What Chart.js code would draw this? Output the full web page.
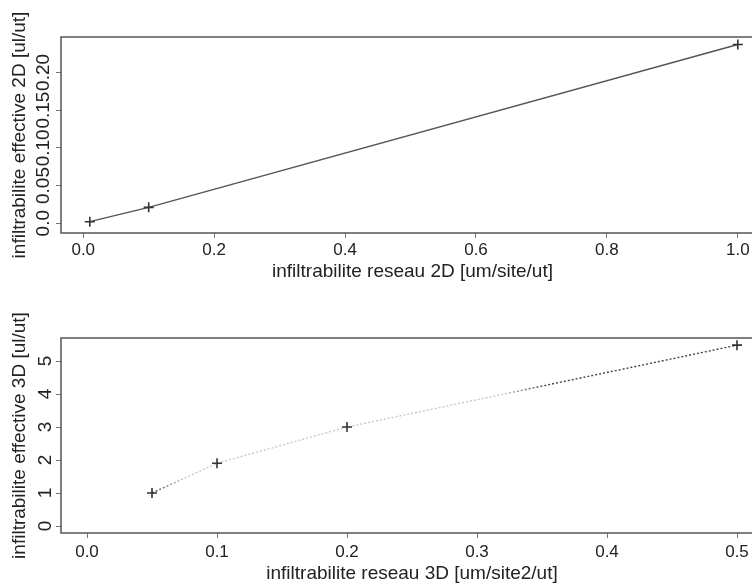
<!DOCTYPE html>
<html><head><meta charset="utf-8">
<script src="https://cdn.jsdelivr.net/npm/chart.js@4/dist/chart.umd.min.js"></script>
<style>
html,body{margin:0;padding:0;background:#fff;width:752px;height:585px;overflow:hidden;position:relative}
canvas{position:absolute;left:0}
#c1{top:0}
#c2{top:292px}
</style></head><body>
<canvas id="c1" width="775" height="292"></canvas>
<canvas id="c2" width="775" height="293"></canvas>
<script>
// ---- data ----
const x2D = [0.01, 0.1, 1.0];
const y2D = [0.002, 0.021, 0.237];
const x3D = [0.05, 0.1, 0.2, 0.5];
const y3D = [1.0, 1.9, 3.0, 5.48];

const xTicks2D = [0, 0.2, 0.4, 0.6, 0.8, 1.0];
const xTickLabels2D = ['0.0', '0.2', '0.4', '0.6', '0.8', '1.0'];
const yTicks2D = [0, 0.05, 0.10, 0.15, 0.20];
const yTickLabels2D = ['0.0', '0.05', '0.10', '0.15', '0.20'];

const xTicks3D = [0, 0.1, 0.2, 0.3, 0.4, 0.5];
const xTickLabels3D = ['0.0', '0.1', '0.2', '0.3', '0.4', '0.5'];
const yTicks3D = [0, 1, 2, 3, 4, 5];
const yTickLabels3D = ['0', '1', '2', '3', '4', '5'];

const xTitle2D = 'infiltrabilite reseau 2D [um/site/ut]';
const yTitle2D = 'infiltrabilite effective 2D [ul/ut]';
const xTitle3D = 'infiltrabilite reseau 3D [um/site2/ut]';
const yTitle3D = 'infiltrabilite effective 3D [ul/ut]';

const FONT = '"Liberation Sans", Arial, Helvetica, sans-serif';
const TXT = '#222';
const AX = '#555';

const boxPlugin = {
  id: 'box',
  afterDraw(chart) {
    const {ctx, chartArea: a} = chart;
    ctx.save();
    ctx.strokeStyle = AX;
    ctx.lineWidth = 1.5;
    ctx.strokeRect(a.left, a.top, a.right - a.left, a.bottom - a.top);
    ctx.restore();
  }
};

function makeChart(id, o) {
  const canvas = document.getElementById(id);
  const H = canvas.height, W = canvas.width;
  const pts = o.xs.map((x, i) => ({x, y: o.ys[i]}));
  return new Chart(canvas, {
    type: 'scatter',
    data: {datasets: [{
      data: pts,
      showLine: true,
      borderColor: o.lineColor,
      borderWidth: 1.4,
      borderDash: o.dash,
      pointStyle: 'cross',
      pointRadius: 5,
      pointBorderWidth: 1.6,
      pointBorderColor: '#333',
      pointBackgroundColor: '#333',
      tension: 0
    }]},
    options: {
      responsive: false,
      animation: false,
      events: [],
      layout: {padding: {left: 0, right: W - o.right, top: o.top, bottom: 0}},
      plugins: {legend: {display: false}, tooltip: {enabled: false}},
      scales: {
        x: {
          type: 'linear', min: o.xmin, max: o.xmax,
          afterBuildTicks: s => { s.ticks = o.xTicks.map(v => ({value: v})); },
          afterFit: s => { s.height = H - o.bottom; },
          ticks: {
            callback: (v, i) => o.xTickLabels[i],
            font: {family: FONT, size: 17}, color: TXT,
            padding: o.xTickPad, maxRotation: 0, minRotation: 0, autoSkip: false
          },
          grid: {display: true, drawOnChartArea: false, drawTicks: true, tickLength: 5, color: '#777'},
          border: {display: false},
          title: {display: true, text: o.xTitle, font: {family: FONT, size: 19}, color: TXT,
                  padding: {top: 0, bottom: o.xTitlePad}}
        },
        y: {
          type: 'linear', min: o.ymin, max: o.ymax,
          afterBuildTicks: s => { s.ticks = o.yTicks.map(v => ({value: v})); },
          afterFit: s => { s.width = o.left; },
          ticks: {
            callback: (v, i) => o.yTickLabels[i],
            font: {family: FONT, size: 19}, color: TXT,
            padding: o.yTickPad, minRotation: 90, maxRotation: 90, crossAlign: 'center', autoSkip: false
          },
          grid: {display: true, drawOnChartArea: false, drawTicks: true, tickLength: 5, color: '#777'},
          border: {display: false},
          title: {display: true, text: o.yTitle, font: {family: FONT, size: 19}, color: TXT,
                  padding: {top: 8.6, bottom: 0}}
        }
      }
    },
    plugins: [boxPlugin]
  });
}

makeChart('c1', {
  xs: x2D, ys: y2D,
  xTicks: xTicks2D, xTickLabels: xTickLabels2D,
  yTicks: yTicks2D, yTickLabels: yTickLabels2D,
  xTitle: xTitle2D, yTitle: yTitle2D,
  xmin: -0.034, xmax: 1.04, ymin: -0.013, ymax: 0.247,
  left: 61, right: 764, top: 37, bottom: 233,
  xTickPad: 2.5, yTickPad: -6.5, xTitlePad: 8.6,
  lineColor: '#555', dash: []
});

makeChart('c2', {
  xs: x3D, ys: y3D,
  xTicks: xTicks3D, xTickLabels: xTickLabels3D,
  yTicks: yTicks3D, yTickLabels: yTickLabels3D,
  xTitle: xTitle3D, yTitle: yTitle3D,
  xmin: -0.02, xmax: 0.52, ymin: -0.212, ymax: 5.697,
  left: 61, right: 763, top: 46, bottom: 241,
  xTickPad: 4.5, yTickPad: 4.7, xTitlePad: 0,
  lineColor: function(ctx) {
    const ch = ctx.chart;
    if (!ch.chartArea) return '#444';
    const xs = ch.scales.x;
    const g = ch.ctx.createLinearGradient(xs.left, 0, xs.right, 0);
    const f = v => Math.min(1, Math.max(0, (xs.getPixelForValue(v) - xs.left) / (xs.right - xs.left)));
    g.addColorStop(f(0.05), '#444');
    g.addColorStop(f(0.075), '#c8c8c8');
    g.addColorStop(f(0.32), '#c8c8c8');
    g.addColorStop(f(0.35), '#444');
    g.addColorStop(1, '#444');
    return g;
  },
  dash: [2, 2]
});
</script>
</body></html>
